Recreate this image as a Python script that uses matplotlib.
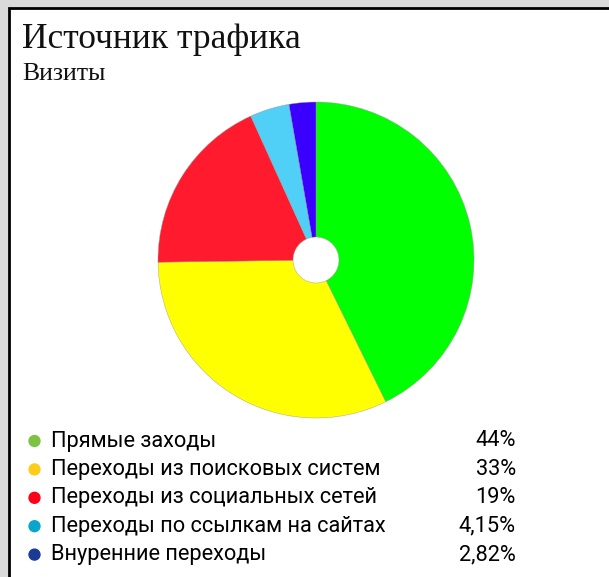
import numpy as np
import matplotlib
matplotlib.use('Agg')
import matplotlib.pyplot as plt
from matplotlib.patches import Rectangle

# chart data
labels = ['Прямые заходы', 'Переходы из поисковых систем', 'Переходы из социальных сетей',
          'Переходы по ссылкам на сайтах', 'Внуренние переходы']
values = [44, 33, 19, 4.15, 2.82]
pct_labels = ['44%', '33%', '19%', '4,15%', '2,82%']
pie_colors = ['#00FF00', '#FFFF00', '#FF1A2E', '#50D0F6', '#3A00FF']
dot_colors = ['#7DC242', '#FFCC1A', '#FF0019', '#0AA5CB', '#1B3A94']

W, H = 609, 577
fig = plt.figure(figsize=(W / 100, H / 100), dpi=100)
fig.patch.set_facecolor('#DADADA')

# overlay axes in pixel coordinates
bg = fig.add_axes([0, 0, 1, 1])
bg.set_xlim(0, W)
bg.set_ylim(H, 0)
bg.axis('off')
bg.add_patch(Rectangle((8.5, 7.5), W, H, facecolor='white', edgecolor='black', lw=2))

bg.text(22, 48, 'Источник трафика', fontsize=25.5, family='Liberation Serif', color='#111111')
bg.text(22, 80, 'Визиты', fontsize=18.5, family='Liberation Serif', color='#111111')

# pie
cx, cy, r = 316, 260, 158
pax = fig.add_axes([(cx - r) / W, (H - cy - r) / H, 2 * r / W, 2 * r / H])
pax.pie(values, colors=pie_colors, startangle=90, counterclock=False,
        wedgeprops=dict(width=1 - 23 / 158, linewidth=0.3, edgecolor='#999999'))
pax.set_xlim(-1, 1)
pax.set_ylim(-1, 1)
pax.axis('off')

# legend
rows = 441 + 28.4 * np.arange(len(labels))
bg.scatter(np.full(len(labels), 34.5), rows, s=62, c=dot_colors, zorder=3)
for i, (lab, pct) in enumerate(zip(labels, pct_labels)):
    bg.text(51, rows[i], lab, fontsize=15.7, family=['Roboto', 'DejaVu Sans'],
            va='center', color='black')
    bg.text(516, rows[i], pct, fontsize=15.7, family=['Roboto', 'DejaVu Sans'],
            va='center', ha='right', color='black')

fig.savefig('out.png', dpi=100, facecolor=fig.get_facecolor())
